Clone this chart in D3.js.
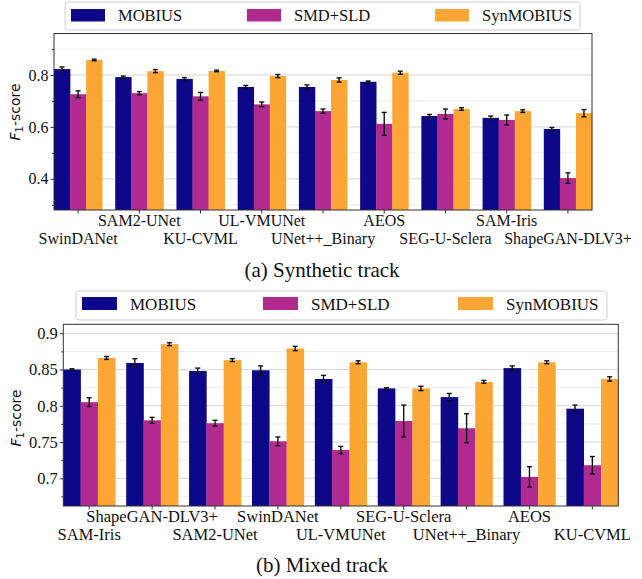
<!DOCTYPE html>
<html>
<head>
<meta charset="utf-8">
<script src="https://cdn.jsdelivr.net/npm/d3@7"></script>
<style>
  html, body { margin: 0; padding: 0; background: #fff; }
  svg { display: block; }
</style>
</head>
<body>
<svg id="chart" width="642" height="579"></svg>
<script>
// ---------- DATA ----------
const seriesNames = ["MOBIUS", "SMD+SLD", "SynMOBIUS"];

// (a) Synthetic track
const groupsA = ["SwinDANet", "SAM2-UNet", "KU-CVML", "UL-VMUNet", "UNet++_Binary", "AEOS", "SEG-U-Sclera", "SAM-Iris", "ShapeGAN-DLV3+"];
const mobiusA    = [0.823, 0.792, 0.785, 0.754, 0.754, 0.774, 0.642, 0.635, 0.592];
const mobiusAErr = [0.008, 0.004, 0.005, 0.006, 0.008, 0.003, 0.006, 0.007, 0.006];
const smdA       = [0.726, 0.730, 0.718, 0.687, 0.661, 0.612, 0.650, 0.627, 0.403];
const smdAErr    = [0.013, 0.006, 0.015, 0.009, 0.008, 0.044, 0.019, 0.019, 0.020];
const synA       = [0.858, 0.815, 0.816, 0.796, 0.781, 0.809, 0.669, 0.661, 0.653];
const synAErr    = [0.003, 0.006, 0.003, 0.006, 0.008, 0.006, 0.005, 0.005, 0.014];
const yTicksA    = [0.4, 0.6, 0.8];
const yMinorA    = [0.3, 0.5, 0.7, 0.9];

// (b) Mixed track
const groupsB = ["SAM-Iris", "ShapeGAN-DLV3+", "SAM2-UNet", "SwinDANet", "UL-VMUNet", "SEG-U-Sclera", "UNet++_Binary", "AEOS", "KU-CVML"];
const mobiusB    = [0.850, 0.859, 0.848, 0.849, 0.837, 0.824, 0.812, 0.852, 0.796];
const mobiusBErr = [0.001, 0.006, 0.004, 0.006, 0.005, 0.001, 0.005, 0.003, 0.005];
const smdB       = [0.805, 0.780, 0.776, 0.751, 0.739, 0.779, 0.769, 0.702, 0.718];
const smdBErr    = [0.006, 0.004, 0.004, 0.006, 0.005, 0.022, 0.020, 0.014, 0.012];
const synB       = [0.866, 0.885, 0.863, 0.879, 0.860, 0.824, 0.833, 0.860, 0.837];
const synBErr    = [0.002, 0.002, 0.002, 0.003, 0.002, 0.003, 0.002, 0.002, 0.003];
const yTicksB    = [0.7, 0.75, 0.8, 0.85, 0.9];
const yMinorB    = [0.675, 0.725, 0.775, 0.825, 0.875];

// ---------- STYLE ----------
const colors = ["#0d0887", "#b12a90", "#fca636"];
const serif = "'Liberation Serif', 'Times New Roman', serif";
const sans = "'DejaVu Sans', sans-serif";

const svg = d3.select("#chart");

function drawPanel(cfg) {
  const g = svg.append("g");
  const x = d3.scaleBand().domain(cfg.groups).range([cfg.left, cfg.right])
    .paddingInner(cfg.padInner).paddingOuter(0);
  const xs = d3.scaleBand().domain(seriesNames).range([0, x.bandwidth()]).padding(0);
  const y = d3.scaleLinear().domain(cfg.yDomain).range([cfg.bottom, cfg.top]);

  // grid
  g.selectAll(".gminor").data(cfg.yMinor).join("line")
    .attr("x1", cfg.left).attr("x2", cfg.right)
    .attr("y1", d => y(d)).attr("y2", d => y(d))
    .attr("stroke", "#ececec").attr("stroke-width", 1);
  g.selectAll(".gmajor").data(cfg.yTicks).join("line")
    .attr("x1", cfg.left).attr("x2", cfg.right)
    .attr("y1", d => y(d)).attr("y2", d => y(d))
    .attr("stroke", "#d6d6d6").attr("stroke-width", 1);

  // bars
  const rows = cfg.groups.map((gname, i) => ({
    g: gname,
    vals: cfg.series.map((s, k) => ({ name: seriesNames[k], v: s.v[i], e: s.e[i], k }))
  }));
  const gg = g.selectAll(".grp").data(rows).join("g")
    .attr("transform", d => `translate(${x(d.g)},0)`);
  gg.selectAll("rect").data(d => d.vals).join("rect")
    .attr("x", d => xs(d.name))
    .attr("width", xs.bandwidth() + 0.3)
    .attr("y", d => y(d.v))
    .attr("height", d => cfg.bottom - y(d.v))
    .attr("fill", d => colors[d.k]);

  // error bars
  const eb = gg.selectAll(".eb").data(d => d.vals).join("g")
    .attr("transform", d => `translate(${xs(d.name) + xs.bandwidth() / 2},0)`);
  eb.append("line").attr("x1", 0).attr("x2", 0)
    .attr("y1", d => y(d.v - d.e)).attr("y2", d => y(d.v + d.e))
    .attr("stroke", "#111").attr("stroke-width", 1.4);
  eb.append("line").attr("x1", -2.5).attr("x2", 2.5)
    .attr("y1", d => y(d.v - d.e)).attr("y2", d => y(d.v - d.e))
    .attr("stroke", "#111").attr("stroke-width", 1.4);
  eb.append("line").attr("x1", -2.5).attr("x2", 2.5)
    .attr("y1", d => y(d.v + d.e)).attr("y2", d => y(d.v + d.e))
    .attr("stroke", "#111").attr("stroke-width", 1.4);

  // frame
  g.append("rect").attr("x", cfg.left).attr("y", cfg.top)
    .attr("width", cfg.right - cfg.left).attr("height", cfg.bottom - cfg.top)
    .attr("fill", "none").attr("stroke", "#333").attr("stroke-width", 1);

  // y axis
  const yAxis = d3.axisLeft(y).tickValues(cfg.yTicks).tickSize(3.5).tickPadding(2)
    .tickFormat(d => String(+d.toFixed(3)));
  const ya = g.append("g").attr("transform", `translate(${cfg.left},0)`).call(yAxis);
  ya.select(".domain").remove();
  ya.selectAll("line").attr("stroke", "#333");
  ya.selectAll("text").attr("font-family", serif).attr("font-size", cfg.fs).attr("fill", "#111");
  const yMinorAxis = d3.axisLeft(y).tickValues(cfg.yMinor).tickSize(2).tickFormat("");
  const ym = g.append("g").attr("transform", `translate(${cfg.left},0)`).call(yMinorAxis);
  ym.select(".domain").remove();
  ym.selectAll("line").attr("stroke", "#333");

  // x axis with staggered labels
  const xAxis = d3.axisBottom(x).tickSize(3.5).tickFormat("");
  const xa = g.append("g").attr("transform", `translate(0,${cfg.bottom})`).call(xAxis);
  xa.select(".domain").remove();
  xa.selectAll("line").attr("stroke", "#333");
  g.selectAll(".xl").data(cfg.groups).join("text")
    .attr("x", d => x(d) + x.bandwidth() / 2)
    .attr("y", (d, i) => cfg.bottom + ((i % 2 === cfg.firstRowParity) ? cfg.row1 : cfg.row2))
    .attr("text-anchor", "middle")
    .attr("font-family", serif).attr("font-size", cfg.fs).attr("fill", "#111")
    .text(d => d);

  // y label
  const yl = g.append("text")
    .attr("transform", `translate(${cfg.ylabX},${cfg.ylabY}) rotate(-90)`)
    .attr("text-anchor", "middle")
    .attr("font-family", sans).attr("font-size", 14).attr("fill", "#111");
  yl.append("tspan").attr("font-style", "italic").text("F");
  yl.append("tspan").attr("font-size", 10).attr("dy", 3).text("1");
  yl.append("tspan").attr("dy", -3).text("-score");

  // legend
  const L = cfg.legend;
  g.append("rect").attr("x", L.x0).attr("y", L.y0)
    .attr("width", L.x1 - L.x0).attr("height", L.y1 - L.y0)
    .attr("rx", 3).attr("fill", "#fff").attr("fill-opacity", 0.85)
    .attr("stroke", "#d0d0d0").attr("stroke-width", 1);
  seriesNames.forEach((n, k) => {
    g.append("rect").attr("x", L.sx[k]).attr("y", L.sy)
      .attr("width", L.sw).attr("height", L.sh).attr("fill", colors[k]);
    g.append("text").attr("x", L.sx[k] + L.tOff).attr("y", L.ty)
      .attr("font-family", serif).attr("font-size", cfg.legFs).attr("fill", "#111")
      .text(n);
  });

  // caption
  g.append("text").attr("x", cfg.capX).attr("y", cfg.capY)
    .attr("text-anchor", "middle").attr("font-family", serif).attr("font-size", 21)
    .attr("fill", "#111").text(cfg.caption);
}

drawPanel({
  groups: groupsA,
  series: [{ v: mobiusA, e: mobiusAErr }, { v: smdA, e: smdAErr }, { v: synA, e: synAErr }],
  left: 54, right: 592, top: 33.5, bottom: 210,
  padInner: 0.213,
  yDomain: [0.28, 0.96], yTicks: yTicksA, yMinor: yMinorA,
  fs: 16, legFs: 16.5,
  firstRowParity: 1, row1: 16, row2: 33.5,
  ylabX: 20, ylabY: 112,
  legend: { x0: 65, x1: 580, y0: 2, y1: 30, sx: [71, 247, 435], sy: 9, sw: 34, sh: 12.5, tOff: 47, ty: 21 },
  caption: "(a) Synthetic track", capX: 322, capY: 277
});

drawPanel({
  groups: groupsB,
  series: [{ v: mobiusB, e: mobiusBErr }, { v: smdB, e: smdBErr }, { v: synB, e: synBErr }],
  left: 63.3, right: 618.3, top: 324.3, bottom: 506,
  padInner: 0.175,
  yDomain: [0.6618, 0.9124], yTicks: yTicksB, yMinor: yMinorB,
  fs: 16.5, legFs: 17,
  firstRowParity: 1, row1: 16.3, row2: 33.8,
  ylabX: 21, ylabY: 418,
  legend: { x0: 76, x1: 607, y0: 291, y1: 320, sx: [82, 263, 458], sy: 297, sw: 35, sh: 13, tOff: 48, ty: 310 },
  caption: "(b) Mixed track", capX: 322, capY: 572
});
</script>
</body>
</html>
